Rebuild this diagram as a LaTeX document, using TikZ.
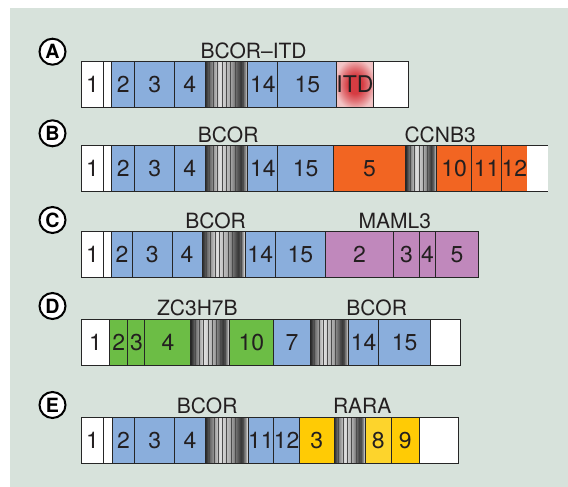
\documentclass[tikz,border=0pt]{standalone}
\usepackage{fontspec}
\setmainfont{TeX Gyre Heros}
\usepackage{tikz}
\usepackage{xcolor}
\definecolor{bg}{HTML}{D7E2DB}
\definecolor{bl}{HTML}{8AAEDC}
\definecolor{org}{HTML}{F26522}
\definecolor{pur}{HTML}{C088BC}
\definecolor{grn}{HTML}{6CBD45}
\definecolor{yel}{HTML}{FFCB05}
\definecolor{yel2}{HTML}{FDD42C}
\definecolor{ink}{HTML}{231F20}
\definecolor{itdred}{HTML}{D63C42}
\definecolor{itdpink}{HTML}{F2C4C5}
\pgfdeclarehorizontalshading{metal}{100bp}{color(0bp)=(black!85); color(25bp)=(black!85); color(30bp)=(black!60); color(42bp)=(black!12); color(55bp)=(black!35); color(67bp)=(black!80); color(72bp)=(black!45); color(75bp)=(white); color(100bp)=(white)}
\pgfdeclareradialshading{itdglow}{\pgfpoint{0bp}{0bp}}{color(0bp)=(itdred); color(10bp)=(itdred); color(18bp)=(itdred!60!itdpink); color(28bp)=(itdpink); color(50bp)=(itdpink)}
\newcommand{\stripebox}[2]{%
  \shade[shading=metal] (#1,0) rectangle (#2,46);
  \pgfmathtruncatemacro{\nl}{(#2-#1)/4.5}
  \foreach \k in {1,...,\nl}
    \draw[black!70, line width=0.35pt] ({#1+\k*(#2-#1)/(\nl+1)},0) -- ++(0,46);
  \draw[exon] (#1,0) rectangle (#2,46);
}

\begin{document}
\begin{tikzpicture}[x=0.5pt, y=-0.5pt,
  exon/.style={draw=black!85, line width=0.5pt},
  num/.style={text=ink, inner sep=0pt, font=\fontsize{11.5}{13}\selectfont},
  gene/.style={text=ink, anchor=base, inner sep=0pt, font=\fontsize{10.5}{12}\selectfont},
  panel/.style={circle, draw=black, line width=1pt, fill=white, inner sep=0pt, minimum size=13pt, font=\bfseries\fontsize{9.8}{10}\selectfont}]
\useasboundingbox (0,0) rectangle (568,487);
\fill[bg] (10,8) rectangle (568,487);

% BCOR-ITD
\begin{scope}[shift={(0,61.3)}]
\node[panel] (pA) at (52.5,-9.6) {A};
\node[gene] (gA) at (253.6,-3) {BCOR--ITD};
\foreach \l/\r/\c/\t [count=\i] in {
81.5/103.6/white/1, 103.6/111.6/white/{}, 111.6/134.8/bl/2, 134.8/174.6/bl/3,
174.6/205/bl/4, 247.8/277.8/bl/14, 277.8/336.9/bl/15, 373.1/408.6/white/{}
}{
\draw[exon, fill=\c] (\l,0) rectangle (\r,46);
\node[num] (a\i) at ({(\l+\r)/2},23) {\t};
}
\stripebox{205}{247.8}
\shade[shading=itdglow] (336.9,0) rectangle (373.1,46);
\draw[exon] (336.9,0) rectangle (373.1,46);
\node[num] (aITD) at (355,23) {ITD};
\end{scope}

% BCOR-CCNB3
\begin{scope}[shift={(0,145.3)}]
\node[panel] (pB) at (52.5,-12) {B};
\node[gene] (gB1) at (228.2,-3) {BCOR};
\node[gene] (gB2) at (440.1,-3) {CCNB3};
\foreach \l/\r/\c/\t [count=\i] in {
81.5/103.6/white/1, 103.6/111.6/white/{}, 111.6/134.8/bl/2, 134.8/174.6/bl/3,
174.6/205/bl/4, 247.8/277.8/bl/14, 277.8/333.3/bl/15, 333.3/405.7/org/5,
436.5/471.6/org/10, 471.6/501.7/org/11, 501.7/527.1/org/12
}{
\draw[exon, fill=\c] (\l,0) rectangle (\r,46);
\node[num] (b\i) at ({(\l+\r)/2},23) {\t};
}
\stripebox{205}{247.8}
\stripebox{405.7}{436.5}
\fill[white] (527.1,0) rectangle (547.7,46);
\draw[exon] (527.1,0) -- (547.7,0) (527.1,46) -- (547.7,46);
\end{scope}

% BCOR-MAML3
\begin{scope}[shift={(0,231.7)}]
\node[panel] (pC) at (52.5,-11.7) {C};
\node[gene] (gC1) at (215.5,-3.5) {BCOR};
\node[gene] (gC2) at (394.8,-3.5) {MAML3};
\foreach \l/\r/\c/\t [count=\i] in {
81.5/103.6/white/1, 103.6/111.6/white/{}, 111.6/132.6/bl/2, 132.6/172.1/bl/3,
172.1/202.1/bl/4, 245.2/275.3/bl/14, 275.3/325.3/bl/15, 325.3/393.8/pur/2,
393.8/419.1/pur/3, 419.1/435.8/pur/4, 435.8/478.2/pur/5
}{
\draw[exon, fill=\c] (\l,0) rectangle (\r,46);
\node[num] (c\i) at ({(\l+\r)/2},23) {\t};
}
\stripebox{202.1}{245.2}
\end{scope}

% ZC3H7B-BCOR
\begin{scope}[shift={(0,319.3)}]
\node[panel] (pD) at (52.5,-13.3) {D};
\node[gene] (gD1) at (197.4,-4) {ZC3H7B};
\node[gene] (gD2) at (376.7,-4) {BCOR};
\foreach \l/\r/\c/\t [count=\i] in {
81.5/109.4/white/1, 109.4/127.9/grn/2, 127.9/144.9/grn/3, 144.9/190.9/grn/4,
229.3/273.5/grn/10, 273.5/310.4/bl/7, 348.5/378.9/bl/14, 378.9/430.3/bl/15,
430.3/460.8/white/{}
}{
\draw[exon, fill=\c] (\l,0) rectangle (\r,46);
\node[num] (d\i) at ({(\l+\r)/2},23) {\t};
}
\stripebox{190.9}{229.3}
\stripebox{310.4}{348.5}
\end{scope}

% BCOR-RARA
\begin{scope}[shift={(0,417.3)}]
\node[panel] (pE) at (52.5,-12.3) {E};
\node[gene] (gE1) at (207.2,-4) {BCOR};
\node[gene] (gE2) at (362.2,-4) {RARA};
\foreach \l/\r/\c/\t [count=\i] in {
81.5/103.6/white/1, 103.6/112.3/white/{}, 112.3/134.8/bl/2, 134.8/174.6/bl/3,
174.6/205.4/bl/4, 248.1/273.5/bl/11, 273.5/299.6/bl/12, 299.6/334/yel/3,
365.1/391.2/yel2/8, 391.2/419.5/yel/9, 419.5/458.6/white/{}
}{
\draw[exon, fill=\c] (\l,0) rectangle (\r,46);
\node[num] (e\i) at ({(\l+\r)/2},23) {\t};
}
\stripebox{205.4}{248.1}
\stripebox{334}{365.1}
\end{scope}
\end{tikzpicture}
\end{document}
